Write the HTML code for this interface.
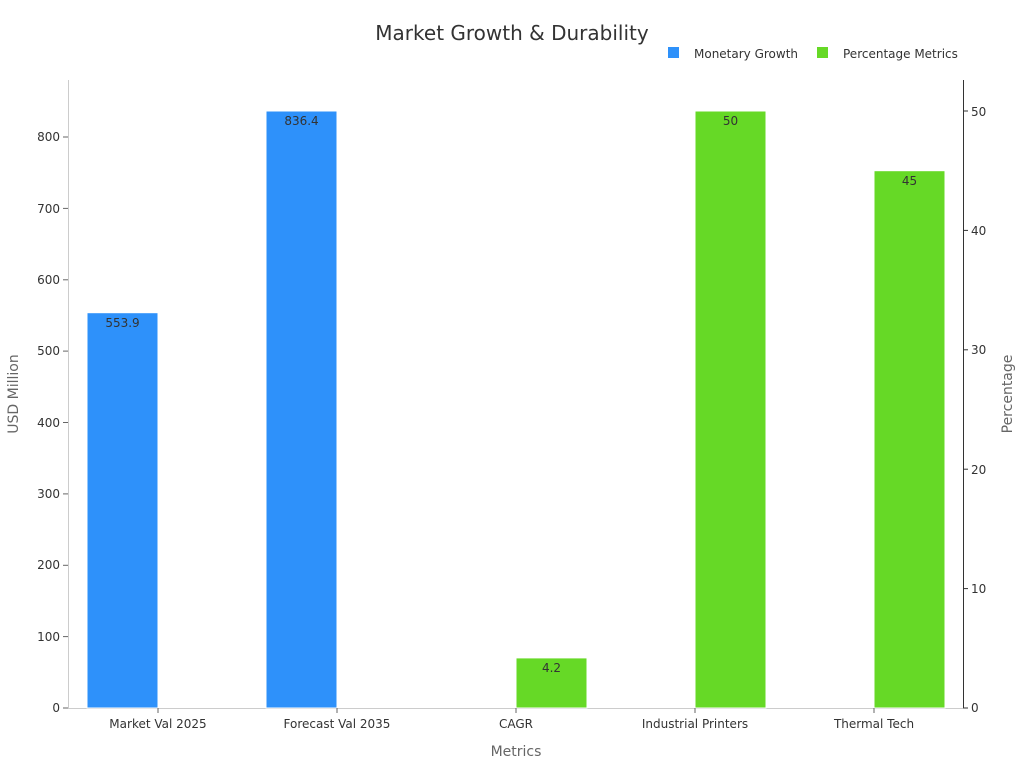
<!DOCTYPE html>
<html><head><meta charset="utf-8"><style>
html,body{margin:0;padding:0;background:#fff;}
svg{display:block;font-family:"DejaVu Sans","Liberation Sans",sans-serif;}
</style></head><body>
<svg width="1024" height="768" viewBox="0 0 1024 768">
<text x="512" y="40" font-size="20" fill="#333" text-anchor="middle">Market Growth &amp; Durability</text>
<rect x="668" y="47" width="11" height="11" fill="#2e91fa"/>
<text x="694" y="58" font-size="12" fill="#333">Monetary Growth</text>
<rect x="817" y="47" width="11" height="11" fill="#66d926"/>
<text x="843" y="58" font-size="12" fill="#333">Percentage Metrics</text>
<!-- axes -->
<line x1="68.5" y1="80" x2="68.5" y2="708" stroke="#ccc"/>
<line x1="963.5" y1="80" x2="963.5" y2="708" stroke="#333"/>
<line x1="68" y1="708.5" x2="963" y2="708.5" stroke="#ccc"/>
<g font-size="12" fill="#333" text-anchor="end">
<line x1="63" y1="708" x2="68" y2="708" stroke="#666"/><text x="60" y="712">0</text>
<line x1="63" y1="636.6" x2="68" y2="636.6" stroke="#666"/><text x="60" y="641">100</text>
<line x1="63" y1="565.3" x2="68" y2="565.3" stroke="#666"/><text x="60" y="569">200</text>
<line x1="63" y1="493.9" x2="68" y2="493.9" stroke="#666"/><text x="60" y="498">300</text>
<line x1="63" y1="422.5" x2="68" y2="422.5" stroke="#666"/><text x="60" y="427">400</text>
<line x1="63" y1="351.1" x2="68" y2="351.1" stroke="#666"/><text x="60" y="355">500</text>
<line x1="63" y1="279.8" x2="68" y2="279.8" stroke="#666"/><text x="60" y="284">600</text>
<line x1="63" y1="208.4" x2="68" y2="208.4" stroke="#666"/><text x="60" y="213">700</text>
<line x1="63" y1="137" x2="68" y2="137" stroke="#666"/><text x="60" y="141">800</text>
</g>
<g font-size="12" fill="#333" text-anchor="start">
<line x1="963" y1="708" x2="968" y2="708" stroke="#333"/><text x="971" y="712">0</text>
<line x1="963" y1="588.6" x2="968" y2="588.6" stroke="#333"/><text x="971" y="593">10</text>
<line x1="963" y1="469.2" x2="968" y2="469.2" stroke="#333"/><text x="971" y="474">20</text>
<line x1="963" y1="349.8" x2="968" y2="349.8" stroke="#333"/><text x="971" y="354">30</text>
<line x1="963" y1="230.4" x2="968" y2="230.4" stroke="#333"/><text x="971" y="235">40</text>
<line x1="963" y1="111" x2="968" y2="111" stroke="#333"/><text x="971" y="116">50</text>
</g>
<text transform="translate(18,394) rotate(-90)" font-size="14" fill="#666" text-anchor="middle">USD Million</text>
<text transform="translate(1012,394) rotate(-90)" font-size="14" fill="#666" text-anchor="middle">Percentage</text>
<text x="516" y="756" font-size="14" fill="#666" text-anchor="middle">Metrics</text>
<!-- bars -->
<g stroke="#fff" stroke-width="1">
<rect x="87" y="312.7" width="71" height="395.3" fill="#2e91fa"/>
<rect x="266" y="111" width="71" height="597" fill="#2e91fa"/>
<rect x="516" y="657.9" width="71" height="50.1" fill="#66d926"/>
<rect x="695" y="111" width="71" height="597" fill="#66d926"/>
<rect x="874" y="170.7" width="71" height="537.3" fill="#66d926"/>
</g>
<g font-size="12" fill="#333" text-anchor="middle">
<text x="122.5" y="327">553.9</text>
<text x="301.5" y="125">836.4</text>
<text x="551.5" y="672">4.2</text>
<text x="730.5" y="125">50</text>
<text x="909.5" y="185">45</text>
</g>
<g font-size="12" fill="#333" text-anchor="middle">
<line x1="158" y1="708" x2="158" y2="713" stroke="#666"/><text x="158" y="728">Market Val 2025</text>
<line x1="337" y1="708" x2="337" y2="713" stroke="#666"/><text x="337" y="728">Forecast Val 2035</text>
<line x1="516" y1="708" x2="516" y2="713" stroke="#666"/><text x="516" y="728">CAGR</text>
<line x1="695" y1="708" x2="695" y2="713" stroke="#666"/><text x="695" y="728">Industrial Printers</text>
<line x1="874" y1="708" x2="874" y2="713" stroke="#666"/><text x="874" y="728">Thermal Tech</text>
</g>
</svg>
</body></html>
